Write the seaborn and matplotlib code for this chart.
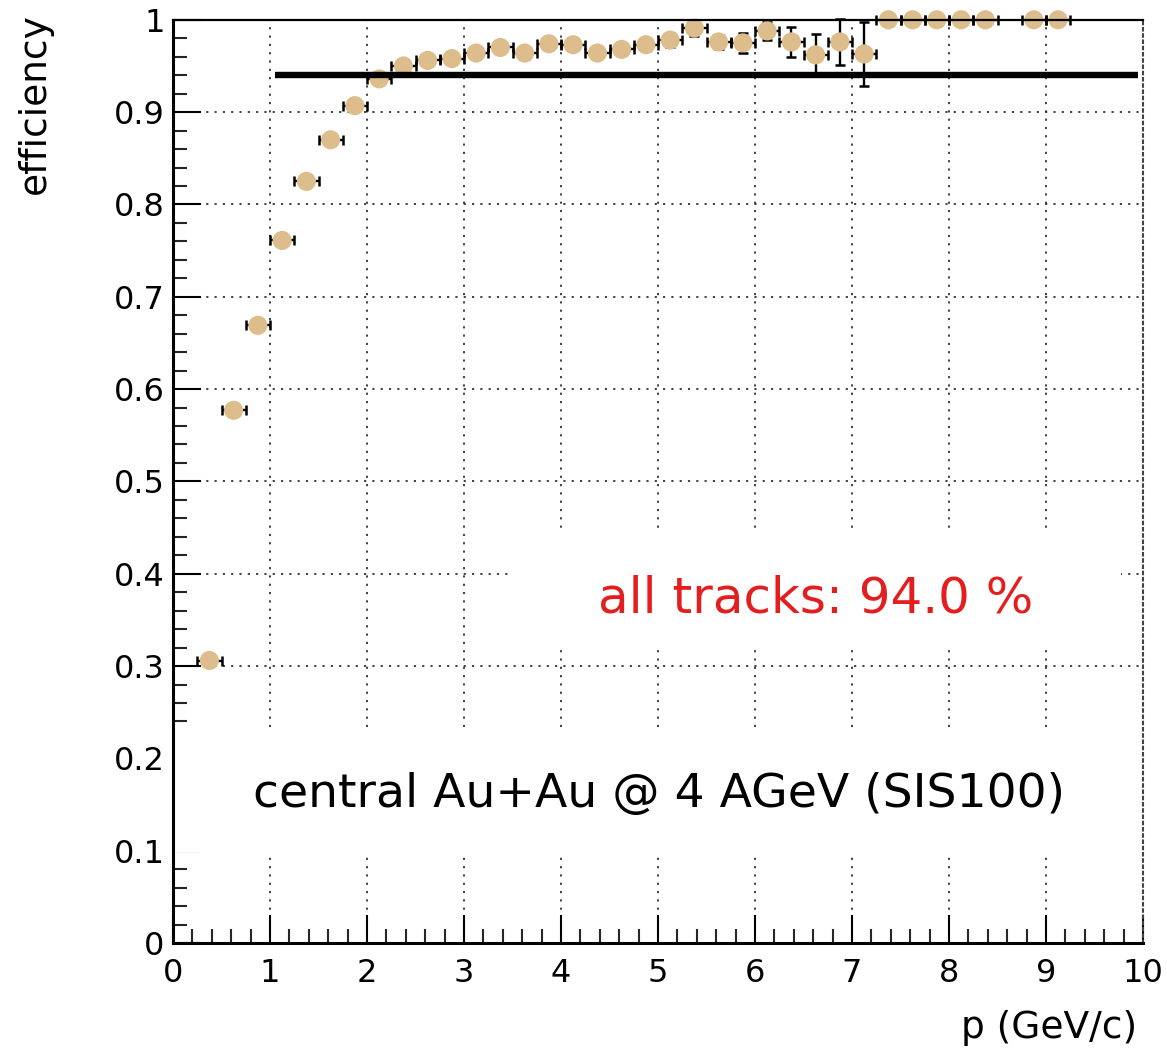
import matplotlib
matplotlib.use("Agg")
import matplotlib.pyplot as plt
from matplotlib.patches import Rectangle
import numpy as np
import pandas as pd
import seaborn as sns

# ---------------- data ----------------
p_centers = [0.375, 0.625, 0.875, 1.125, 1.375, 1.625, 1.875, 2.125, 2.375, 2.625,
             2.875, 3.125, 3.375, 3.625, 3.875, 4.125, 4.375, 4.625, 4.875, 5.125,
             5.375, 5.625, 5.875, 6.125, 6.375, 6.625, 6.875, 7.125, 7.375, 7.625,
             7.875, 8.125, 8.375, 8.875, 9.125]
efficiency = [0.306, 0.577, 0.669, 0.761, 0.825, 0.870, 0.907, 0.936, 0.950, 0.956,
              0.958, 0.964, 0.970, 0.964, 0.974, 0.973, 0.964, 0.968, 0.973, 0.978,
              0.991, 0.976, 0.975, 0.988, 0.976, 0.962, 0.976, 0.963, 1.0, 1.0,
              1.0, 1.0, 1.0, 1.0, 1.0]
eff_err = [0.003, 0.003, 0.003, 0.003, 0.003, 0.003, 0.003, 0.003, 0.004, 0.004,
           0.004, 0.005, 0.005, 0.006, 0.005, 0.006, 0.006, 0.006, 0.007, 0.008,
           0.009, 0.008, 0.011, 0.010, 0.016, 0.023, 0.025, 0.035, 0.0, 0.0,
           0.0, 0.0, 0.0, 0.0, 0.0]
bin_half_width = 0.125
mean_eff = 0.94
mean_line_range = [1.05, 9.95]
x_major = [0, 1, 2, 3, 4, 5, 6, 7, 8, 9, 10]
y_major = [0, 0.1, 0.2, 0.3, 0.4, 0.5, 0.6, 0.7, 0.8, 0.9, 1.0]
y_labels = ["0", "0.1", "0.2", "0.3", "0.4", "0.5", "0.6", "0.7", "0.8", "0.9", "1"]
label_all = "all tracks: 94.0 %"
label_sys = "central Au+Au @ 4 AGeV (SIS100)"

df = pd.DataFrame({"p": p_centers, "eff": efficiency, "err": eff_err})

# ---------------- style ----------------
sns.set_theme(style="white")
plt.rcParams['font.family'] = ['DejaVu Sans']

W, H = 1167, 1055
fig = plt.figure(figsize=(W / 100, H / 100), dpi=100)
x0, x1 = 173, 1143
y1, y0 = 19.8, 943
ax = fig.add_axes([x0 / W, 1 - y0 / H, (x1 - x0) / W, (y0 - y1) / H])
ax.set_xlim(0, 10)
ax.set_ylim(0, 1)

grid_kw = dict(color="#333333", lw=1.3, ls=(0, (1.2, 3.4)), zorder=0.5)
for xv in x_major[1:-1]:
    ax.axvline(xv, **grid_kw)
for yv in y_major[1:-1]:
    ax.axhline(yv, **grid_kw)

# white text boxes hiding the grid
ax.add_patch(Rectangle((3.47, 0.323), 6.30, 0.126, facecolor="white",
                       edgecolor="none", zorder=1))
ax.add_patch(Rectangle((-0.2, 0.0985), 10.4, 0.1345, facecolor="white",
                       edgecolor="none", zorder=1))

ax.errorbar(df["p"], df["eff"], xerr=bin_half_width, yerr=df["err"], fmt="none",
            ecolor="black", elinewidth=1.7, capsize=3.4, capthick=1.8, zorder=3,
            clip_on=False)
sns.scatterplot(data=df, x="p", y="eff", ax=ax, s=190, color="#DEBD8C",
                edgecolor="none", linewidth=0, zorder=4, clip_on=False, legend=False)

ax.plot(mean_line_range, [mean_eff, mean_eff], color="black", lw=4.6,
        solid_capstyle="butt", zorder=5)

ax.text(6.62, 0.3577, label_all, color="#E41E1E", fontsize=36,
        ha="center", va="baseline", zorder=6)
ax.text(5.01, 0.1468, label_sys, color="black", fontsize=34,
        ha="center", va="baseline", zorder=6)

# ticks
ax.set_xticks(x_major)
ax.set_xticklabels([str(v) for v in x_major])
ax.set_yticks(y_major)
ax.set_yticklabels(y_labels)
ax.set_xticks(np.arange(0, 10.01, 0.2), minor=True)
ax.set_yticks(np.arange(0, 1.001, 0.02), minor=True)
ax.tick_params(axis="both", which="major", direction="in", length=20, width=1.5,
               labelsize=23, colors="black", bottom=True, left=True,
               top=False, right=False)
ax.tick_params(axis="both", which="minor", direction="in", length=10, width=1.5,
               bottom=True, left=True, top=False, right=False)
ax.tick_params(axis="x", which="major", pad=11)
ax.tick_params(axis="y", which="major", pad=6)
ax.set_xlabel("")
ax.set_ylabel("")

for side in ["left", "bottom"]:
    ax.spines[side].set_linewidth(2.2)
    ax.spines[side].set_color("black")
ax.spines["top"].set_linewidth(1.6)
ax.spines["top"].set_color("black")
ax.spines["right"].set_linewidth(1.5)
ax.spines["right"].set_color("#444444")
ax.spines["right"].set_linestyle((0, (1.2, 1.8)))
for s in ax.spines.values():
    s.set_zorder(7)

fig.text(1137 / W, 1 - 1028 / H, "p (GeV/c)", ha="right", va="center",
         fontsize=27, color="black")
fig.text(35 / W, 1 - 13 / H, "efficiency", ha="center", va="top",
         rotation=90, fontsize=27, color="black")

fig.savefig("out.png", dpi=100, facecolor="white")
